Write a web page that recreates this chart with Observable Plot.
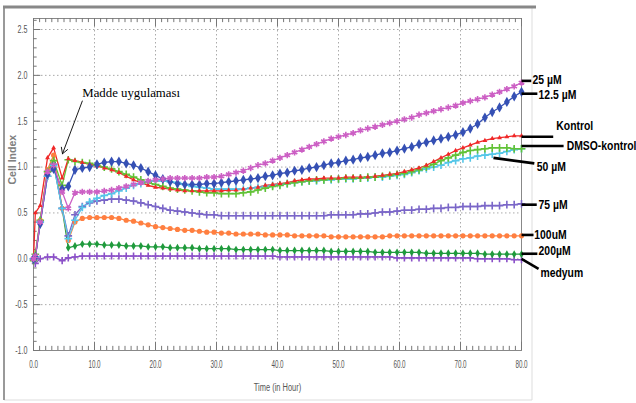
<!DOCTYPE html>
<html><head><meta charset="utf-8">
<script src="https://cdn.jsdelivr.net/npm/d3@7"></script>
<script src="https://cdn.jsdelivr.net/npm/@observablehq/plot@0.6"></script>
<style>body{margin:0;background:#fff} svg{display:block}</style>
</head><body><div id="chart"></div>
<script>
const times = [0,0.3,1.1,2.3,3.3,4.7,5.7,
6.8,8.0,9.2,10.4,11.6,12.8,14.0,15.2,16.4,17.6,
18.8,20.0,21.2,22.4,23.6,24.8,26.0,27.2,28.4,29.6,
30.8,32.0,33.2,34.4,35.6,36.8,38.0,39.2,40.4,41.6,
42.8,44.0,45.2,46.4,47.6,48.8,50.0,51.2,52.4,53.6,
54.8,56.0,57.2,58.4,59.6,60.8,62.0,63.2,64.4,65.6,
66.8,68.0,69.2,70.4,71.6,72.8,74.0,75.2,76.4,77.6,
78.8,80.0];

const kontrol = [0.00,0.50,0.58,1.10,1.21,0.88,1.09,
1.07,1.05,1.03,1.01,0.99,0.97,0.94,0.90,0.86,0.83,
0.80,0.78,0.77,0.76,0.75,0.74,0.74,0.74,0.74,0.74,
0.74,0.75,0.75,0.76,0.77,0.78,0.80,0.81,0.82,0.83,
0.85,0.86,0.87,0.87,0.88,0.88,0.88,0.89,0.89,0.89,
0.89,0.90,0.91,0.92,0.93,0.95,0.97,0.99,1.02,1.06,
1.10,1.14,1.18,1.21,1.24,1.27,1.29,1.31,1.32,1.33,
1.34,1.34];

const dmsoKontrol = [-0.02,0.05,0.42,0.95,1.07,0.80,1.08,
1.06,1.05,1.04,1.02,1.00,0.98,0.95,0.92,0.89,0.86,
0.83,0.81,0.79,0.77,0.76,0.75,0.74,0.73,0.72,0.72,
0.71,0.71,0.71,0.72,0.73,0.75,0.77,0.79,0.80,0.82,
0.83,0.84,0.85,0.86,0.86,0.87,0.87,0.88,0.88,0.88,
0.89,0.89,0.90,0.91,0.92,0.93,0.95,0.97,1.00,1.03,
1.07,1.10,1.13,1.16,1.18,1.19,1.20,1.21,1.21,1.21,
1.20,1.20];

const uM50 = [0.00,0.02,0.40,0.90,1.02,0.55,0.22,
0.42,0.56,0.62,0.66,0.69,0.71,0.74,0.77,0.80,0.82,
0.84,0.85,0.85,0.84,0.83,0.81,0.79,0.78,0.77,0.76,
0.76,0.76,0.76,0.76,0.77,0.78,0.79,0.80,0.81,0.82,
0.83,0.84,0.85,0.85,0.86,0.86,0.87,0.87,0.87,0.88,
0.88,0.89,0.89,0.90,0.91,0.92,0.94,0.96,0.98,1.00,
1.02,1.05,1.07,1.09,1.10,1.12,1.13,1.14,1.15,1.17,
1.19,1.20];

const uM12_5 = [0.00,0.02,0.38,0.92,0.98,0.76,0.79,
0.97,0.99,1.00,1.03,1.05,1.06,1.06,1.04,1.02,0.99,
0.95,0.91,0.87,0.84,0.82,0.81,0.81,0.81,0.82,0.82,
0.83,0.84,0.85,0.86,0.87,0.88,0.90,0.91,0.93,0.94,
0.96,0.97,0.99,1.00,1.02,1.04,1.05,1.07,1.08,1.10,
1.11,1.13,1.15,1.16,1.18,1.20,1.22,1.25,1.27,1.29,
1.31,1.33,1.35,1.38,1.42,1.47,1.54,1.60,1.65,1.71,
1.77,1.82];

const uM25 = [0.00,0.03,0.40,0.95,1.02,0.73,0.55,
0.72,0.73,0.73,0.73,0.74,0.75,0.77,0.79,0.81,0.83,
0.85,0.86,0.87,0.88,0.88,0.88,0.88,0.88,0.89,0.89,
0.90,0.92,0.94,0.96,0.99,1.02,1.04,1.07,1.10,1.13,
1.16,1.19,1.22,1.25,1.28,1.31,1.33,1.35,1.37,1.40,
1.42,1.44,1.46,1.48,1.50,1.52,1.54,1.57,1.59,1.61,
1.63,1.65,1.67,1.70,1.72,1.74,1.76,1.79,1.82,1.85,
1.88,1.92];

const uM75 = [0.00,0.02,0.40,0.90,1.03,0.55,0.25,
0.48,0.57,0.61,0.63,0.64,0.65,0.65,0.64,0.63,0.61,
0.59,0.57,0.55,0.53,0.52,0.51,0.50,0.49,0.48,0.48,
0.47,0.47,0.47,0.47,0.47,0.47,0.47,0.47,0.47,0.47,
0.47,0.47,0.47,0.47,0.47,0.48,0.48,0.48,0.48,0.49,
0.49,0.50,0.51,0.51,0.52,0.53,0.53,0.54,0.54,0.55,
0.55,0.56,0.56,0.57,0.57,0.57,0.58,0.58,0.58,0.59,
0.59,0.60];

const uM100 = [0.00,0.02,0.42,0.97,1.13,0.55,0.20,
0.40,0.44,0.45,0.45,0.45,0.45,0.44,0.42,0.41,0.39,
0.37,0.35,0.34,0.33,0.32,0.31,0.31,0.30,0.29,0.29,
0.28,0.28,0.27,0.27,0.27,0.27,0.26,0.26,0.26,0.26,
0.25,0.25,0.25,0.25,0.25,0.24,0.24,0.24,0.24,0.24,
0.24,0.24,0.24,0.25,0.25,0.25,0.25,0.25,0.25,0.25,
0.25,0.25,0.25,0.25,0.25,0.25,0.25,0.25,0.25,0.25,
0.25,0.25];

const uM200 = [0.00,0.02,0.42,0.95,1.05,0.55,0.12,
0.14,0.16,0.16,0.16,0.15,0.15,0.15,0.14,0.14,0.14,
0.13,0.13,0.13,0.12,0.12,0.12,0.12,0.11,0.11,0.11,
0.11,0.11,0.10,0.10,0.10,0.10,0.10,0.10,0.09,0.09,
0.09,0.09,0.09,0.09,0.09,0.08,0.08,0.08,0.08,0.08,
0.08,0.07,0.07,0.07,0.07,0.07,0.07,0.07,0.06,0.06,
0.06,0.06,0.06,0.06,0.06,0.06,0.05,0.05,0.05,0.05,
0.05,0.05];

const medyum = [0.00,-0.05,0.00,0.02,0.02,-0.02,0.01,
0.02,0.03,0.03,0.03,0.03,0.03,0.03,0.03,0.03,0.03,
0.03,0.03,0.03,0.03,0.03,0.03,0.03,0.03,0.03,0.03,
0.03,0.03,0.03,0.03,0.03,0.03,0.03,0.03,0.02,0.02,
0.02,0.02,0.02,0.02,0.02,0.02,0.02,0.02,0.02,0.02,
0.02,0.02,0.02,0.02,0.01,0.01,0.01,0.01,0.01,0.01,
0.01,0.01,0.01,0.01,0.01,0.00,0.00,0.00,0.00,0.00,
-0.01,-0.01];

const seriesNames = ["medyum","200µM","100uM","75 µM","50 µM","DMSO-kontrol","Kontrol","12.5 µM","25 µM"];
const seriesValues = [medyum, uM200, uM100, uM75, uM50, dmsoKontrol, kontrol, uM12_5, uM25];
const seriesColors = ["#8b50c8","#1f9a3c","#ff7f40","#7a66c8","#55c6e8","#62c236","#f02828","#3550b4","#cc5fc4"];
const seriesSymbols = ["plus","diamond","circle","plus","plus","plus","triangle","diamond","asterisk"];
const seriesFilled = [false,true,true,false,false,false,true,true,false];
const seriesR = [2.4,2.4,2.6,2.6,2.6,2.6,1.8,3.1,3.0];

// right-hand labels (data coordinates)
const labelNames = ["25 µM","12.5 µM","Kontrol","DMSO-kontrol","50 µM","75 µM","100uM","200µM","medyum"];
const labelX = [81.8, 82.8, 85.7, 87.4, 82.5, 82.8, 82.1, 82.8, 83.1];
const labelY = [1.95, 1.79, 1.45, 1.23, 1.00, 0.59, 0.26, 0.09, -0.15];
const leaderX1 = [80, 80, 80, 80, 75.4, 80, 80, 80, 80];
const leaderY1 = [1.94, 1.80, 1.33, 1.23, 1.10, 0.59, 0.26, 0.055, 0.0];
const leaderX2 = [81.6, 82.6, 85.2, 86.9, 82.1, 82.5, 81.97, 82.6, 82.8];
const leaderY2 = [1.94, 1.80, 1.33, 1.23, 1.04, 0.59, 0.26, 0.055, -0.11];

const annotText = "Madde uygulaması";
const annotX = 8.0, annotY = 1.81;
const arrowFrom = [8.0, 1.72], arrowTo = [4.75, 1.145];

const xTicks = [0,10,20,30,40,50,60,70,80];
const yTicks = [-1.0,-0.5,0.0,0.5,1.0,1.5,2.0,2.5];
const xMinor = d3.range(0, 81, 1);
const yMinor = d3.range(-1, 2.61, 0.1);

const rows = [];
seriesNames.forEach((s, k) => seriesValues[k].forEach((v, i) => rows.push({series: s, t: times[i], v})));

const sans = "'Liberation Sans',Arial,sans-serif";
const yTop = 2.62;

const marks = [
  Plot.ruleX(xTicks.slice(1, -1), {stroke: "#aaa", strokeDasharray: "1.5,2.5"}),
  Plot.ruleY(yTicks.slice(1), {stroke: "#aaa", strokeDasharray: "1.5,2.5"}),
  Plot.frame({stroke: "#888"}),
  // inward ticks
  Plot.ruleX(xMinor, {x: d => d, y1: -1, y2: d => -1 + (d % 10 === 0 ? 0.09 : 0.045), stroke: "#777"}),
  Plot.ruleX(xMinor, {x: d => d, y1: yTop, y2: d => yTop - (d % 10 === 0 ? 0.09 : 0.045), stroke: "#777"}),
  Plot.ruleY(yMinor, {y: d => d, x1: 0, x2: (d, i) => (i % 5 === 0 ? 1.2 : 0.6), stroke: "#777"}),
  // tick labels
  Plot.text(xTicks, {x: d => d, y: -1, dy: 14, text: d => d.toFixed(1), fill: "#555", fontSize: 10.5, fontFamily: sans, ariaLabel: () => "cond62"}),
  Plot.text(yTicks, {x: 0, y: d => d, dx: -6, textAnchor: "end", text: d => d.toFixed(1), fill: "#555", fontSize: 10.5, fontFamily: sans, ariaLabel: () => "cond70"}),
  Plot.text(["Time (in Hour)"], {x: 40, y: -1, dy: 37, text: d => d, fill: "#555", fontSize: 11, fontFamily: sans, ariaLabel: () => "cond70"}),
  Plot.text(["Cell Index"], {frameAnchor: "left", dx: -21, rotate: -90, text: d => d, fill: "#808080", fontSize: 10.5, fontWeight: "bold", fontFamily: sans}),
  // series lines
  Plot.line(rows, {x: "t", y: "v", z: "series", stroke: "series", strokeWidth: 1.3})
];
seriesNames.forEach((s, k) => {
  const d = rows.filter(r => r.series === s);
  marks.push(Plot.dot(d, seriesFilled[k]
    ? {x: "t", y: "v", symbol: () => seriesSymbols[k], fill: seriesColors[k], r: seriesR[k]}
    : {x: "t", y: "v", symbol: () => seriesSymbols[k], stroke: seriesColors[k], strokeWidth: 1.6, r: seriesR[k]}));
});
marks.push(
  Plot.link(labelNames, {x1: (d, i) => leaderX1[i], y1: (d, i) => leaderY1[i], x2: (d, i) => leaderX2[i], y2: (d, i) => leaderY2[i], stroke: "#000", strokeWidth: 2.6}),
  Plot.text(labelNames, {x: (d, i) => labelX[i], y: (d, i) => labelY[i], text: d => d, textAnchor: "start", fill: "#000", fontSize: 13, fontWeight: "bold", fontFamily: sans, ariaLabel: () => "cond80"}),
  Plot.text([annotText], {x: annotX, y: annotY, text: d => d, textAnchor: "start", fill: "#000", fontSize: 12.8, fontFamily: "'Liberation Serif','Times New Roman',serif"}),
  Plot.arrow([0], {x1: arrowFrom[0], y1: arrowFrom[1], x2: arrowTo[0], y2: arrowTo[1], stroke: "#000", strokeWidth: 0.9, headLength: 11})
);

const chart = Plot.plot({
  width: 636, height: 403,
  marginLeft: 33, marginRight: 115, marginTop: 18, marginBottom: 53,
  x: {domain: [0, 80], axis: null},
  y: {domain: [-1, yTop], axis: null},
  color: {domain: seriesNames, range: seriesColors},
  symbol: {domain: ["plus","diamond","circle","triangle","asterisk"], range: ["plus","diamond","circle","triangle","asterisk"]},
  style: {background: "#fff", overflow: "visible"},
  marks
});
document.getElementById("chart").appendChild(chart);

// horizontally condense texts (narrow font look)
const svg = d3.select(chart);
function condense(el, s) {
  const t = d3.select(el);
  const tr = t.attr("transform");
  if (tr && tr.includes("translate")) {
    t.attr("transform", tr + ` scale(${s},1)`);
  } else {
    const x = +t.attr("x") || 0;
    t.attr("transform", `translate(${x * (1 - s)},0) scale(${s},1)`);
  }
}
for (const [label, s] of [["cond62", 0.6], ["cond70", 0.68], ["cond80", 0.8]]) {
  svg.selectAll(`[aria-label="${label}"]`).each(function () {
    if (this.tagName.toLowerCase() === "text") condense(this, s);
    else d3.select(this).selectAll("text").each(function () { condense(this, s); });
  });
}

// outer panel border
svg.insert("line", ":first-child").attr("x1", 532).attr("y1", 7).attr("x2", 532).attr("y2", 400).attr("stroke", "#ddd");
svg.insert("line", ":first-child").attr("x1", 4).attr("y1", 400).attr("x2", 532).attr("y2", 400).attr("stroke", "#ddd");
svg.append("line").attr("x1", 4).attr("y1", 7).attr("x2", 4).attr("y2", 400).attr("stroke", "#999").attr("stroke-width", 2);
svg.append("line").attr("x1", 3).attr("y1", 7).attr("x2", 536).attr("y2", 7).attr("stroke", "#888").attr("stroke-width", 3);
</script>
</body></html>
